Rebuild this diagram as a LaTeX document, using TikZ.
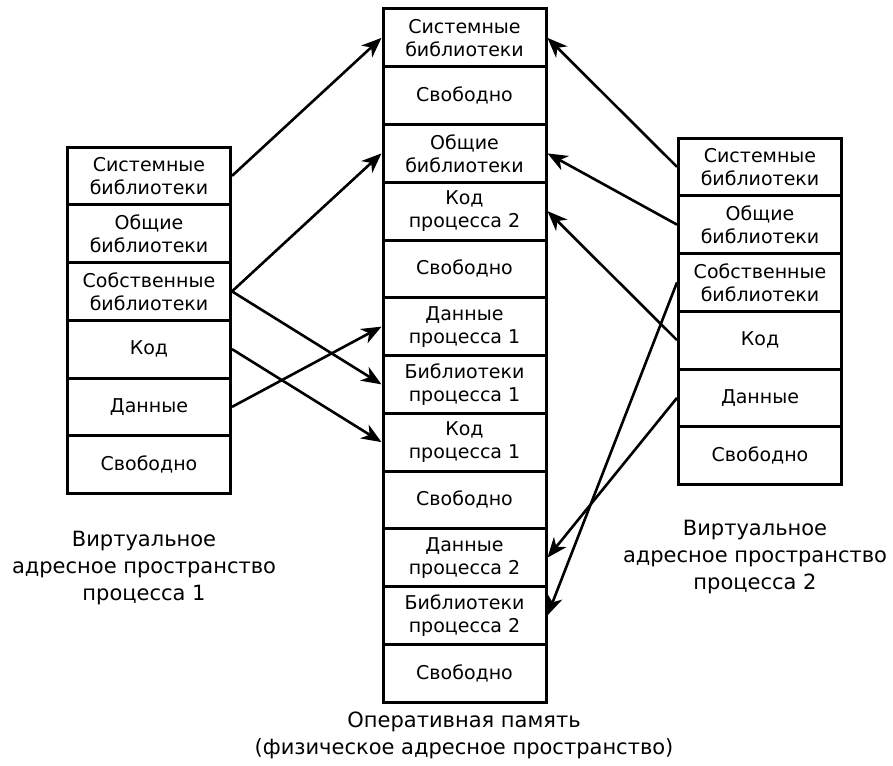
\documentclass[tikz,border=0pt]{standalone}
\usepackage{fontspec}
\setmainfont{DejaVu Sans}
\usetikzlibrary{arrows.meta}
\begin{document}
\begin{tikzpicture}[x=1pt,y=-1pt,
  cell/.style={draw, line width=3pt, rectangle, minimum width=163pt,
    minimum height=57.75pt, inner sep=0pt, align=center,
    font=\fontsize{19}{23}\selectfont},
  link/.style={line width=2.6pt, -{Stealth[length=20pt,width=16pt,inset=6pt]}},
  caption/.style={align=center, font=\fontsize{21}{27}\selectfont}]
\useasboundingbox (0,0) rectangle (893,765);

% virtual address space of process 1
\foreach \t [count=\i] in {{Системные\\библиотеки},{Общие\\библиотеки},
    {Собственные\\библиотеки},{Код},{Данные},{Свободно}}
  \node[cell] (l\i) at (149,{147+57.75*(\i-0.5)}) {\t};

% physical memory
\foreach \t [count=\i] in {{Системные\\библиотеки},{Свободно},
    {Общие\\библиотеки},{Код\\процесса 2},{Свободно},{Данные\\процесса 1},
    {Библиотеки\\процесса 1},{Код\\процесса 1},{Свободно},
    {Данные\\процесса 2},{Библиотеки\\процесса 2},{Свободно}}
  \node[cell] (m\i) at (464.5,{9+57.75*(\i-0.5)}) {\t};

% virtual address space of process 2
\foreach \t [count=\i] in {{Системные\\библиотеки},{Общие\\библиотеки},
    {Собственные\\библиотеки},{Код},{Данные},{Свободно}}
  \node[cell] (r\i) at (760,{138+57.75*(\i-0.5)}) {\t};

% captions
\node[caption] (capl) at (144,568) {Виртуальное\\адресное пространство\\процесса 1};
\node[caption] (capr) at (755,557) {Виртуальное\\адресное пространство\\процесса 2};
\node[caption] (capm) at (464,735) {Оперативная память\\(физическое адресное пространство)};

% mappings of process 1
\draw[link] (l1.east) -- (m1.west);
\draw[link] (l3.east) -- (m3.west);
\draw[link] (l3.east) -- (m7.west);
\draw[link] (l4.east) -- (m8.west);
\draw[link] (l5.east) -- (m6.west);

% mappings of process 2
\draw[link] (r1.west) -- (m1.east);
\draw[link] (r2.west) -- (m3.east);
\draw[link] (r4.west) -- (m4.east);
\draw[link] (r3.west) -- (m11.east);
\draw[link] (r5.west) -- (m10.east);
\end{tikzpicture}
\end{document}
